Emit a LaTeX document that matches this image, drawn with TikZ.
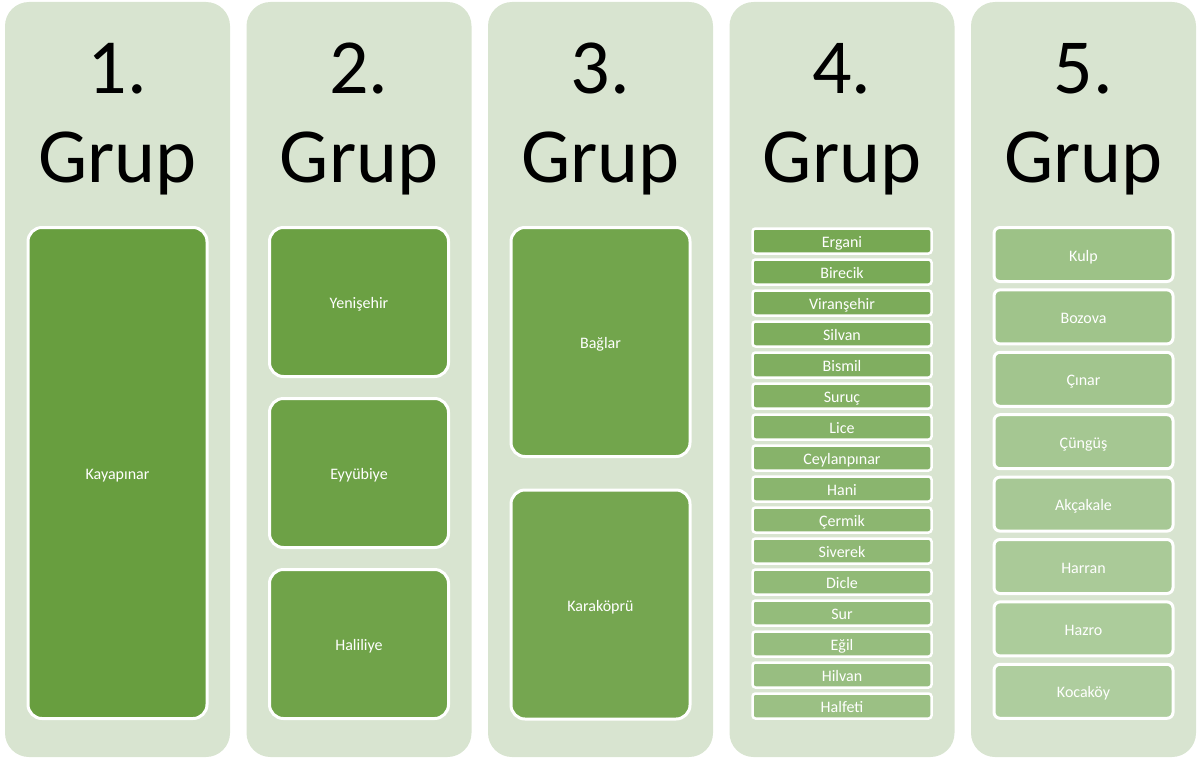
\documentclass[tikz,border=0pt]{standalone}
\usepackage{fontspec}
\setmainfont{Carlito}
\usepackage{xcolor}
\usepackage{tikz}
\usetikzlibrary{positioning}

\definecolor{grupbg}{RGB}{216,228,208}
\definecolor{grupdark}{RGB}{104,158,63}
\definecolor{gruplight}{RGB}{174,205,158}

\tikzset{
  panel/.style={fill=grupbg, rounded corners=24pt, minimum width=225pt, minimum height=755pt, inner sep=0pt},
  title/.style={font=\fontsize{78}{89}\selectfont, anchor=base, inner sep=0pt},
  cell/.style={draw=white, line width=3pt, text=white, font=\fontsize{16}{18}\selectfont,
    minimum width=179pt, inner sep=0pt, text height=14.5pt, text depth=1.5pt},
  bigcell/.style={cell, rounded corners=14pt},
  thincell/.style={cell, rounded corners=3pt, line width=2.5pt, minimum height=25pt},
  midcell/.style={cell, rounded corners=6pt, minimum height=54pt},
}

\begin{document}
\begin{tikzpicture}[x=1pt, y=-1pt]
    \useasboundingbox (0,0) rectangle (1198,760);

    % Panels and titles
    \foreach \k in {1,...,5} {
        \pgfmathsetmacro\cx{117.5+241.5*(\k-1)}
        \node[panel] (col\k) at (\cx,379.5) {};
        \node[title] (num\k) at (\cx,93) {\k.};
        \node[title] (grup\k) at (\cx,182) {Grup};
    }

    % 1. Grup
    \node[bigcell, minimum height=491pt, fill=grupdark] (kayapinar) at (117.5,473) {Kayapınar};

    % 2. Grup
    \foreach \yy/\name [count=\j] in {302/Yenişehir, 473/Eyyübiye, 644/Haliliye} {
        \pgfmathtruncatemacro\t{100-\j*100/29}
        \node[bigcell, minimum height=149pt, fill=grupdark!\t!gruplight] (g2-\j) at (359,\yy) {\name};
    }

    % 3. Grup
    \foreach \yy/\name [count=\j] in {342/Bağlar, 604.5/Karaköprü} {
        \pgfmathtruncatemacro\t{100-(3+\j)*100/29}
        \node[bigcell, minimum height=229pt, fill=grupdark!\t!gruplight] (g3-\j) at (600.5,\yy) {\name};
    }

    % 4. Grup
    \foreach \name [count=\j] in {Ergani, Birecik, Viranşehir, Silvan, Bismil, Suruç, Lice, Ceylanpınar,
        Hani, Çermik, Siverek, Dicle, Sur, Eğil, Hilvan, Halfeti} {
        \pgfmathtruncatemacro\t{100-(5+\j)*100/29}
        \pgfmathsetmacro\yy{241+31*(\j-1)}
        \node[thincell, fill=grupdark!\t!gruplight] (g4-\j) at (842,\yy) {\name};
    }

    % 5. Grup
    \foreach \name [count=\j] in {Kulp, Bozova, Çınar, Çüngüş, Akçakale, Harran, Hazro, Kocaköy} {
        \pgfmathtruncatemacro\t{100-(21+\j)*100/29}
        \pgfmathsetmacro\yy{254.5+62.4*(\j-1)}
        \node[midcell, fill=grupdark!\t!gruplight] (g5-\j) at (1083.5,\yy) {\name};
    }
\end{tikzpicture}
\end{document}
